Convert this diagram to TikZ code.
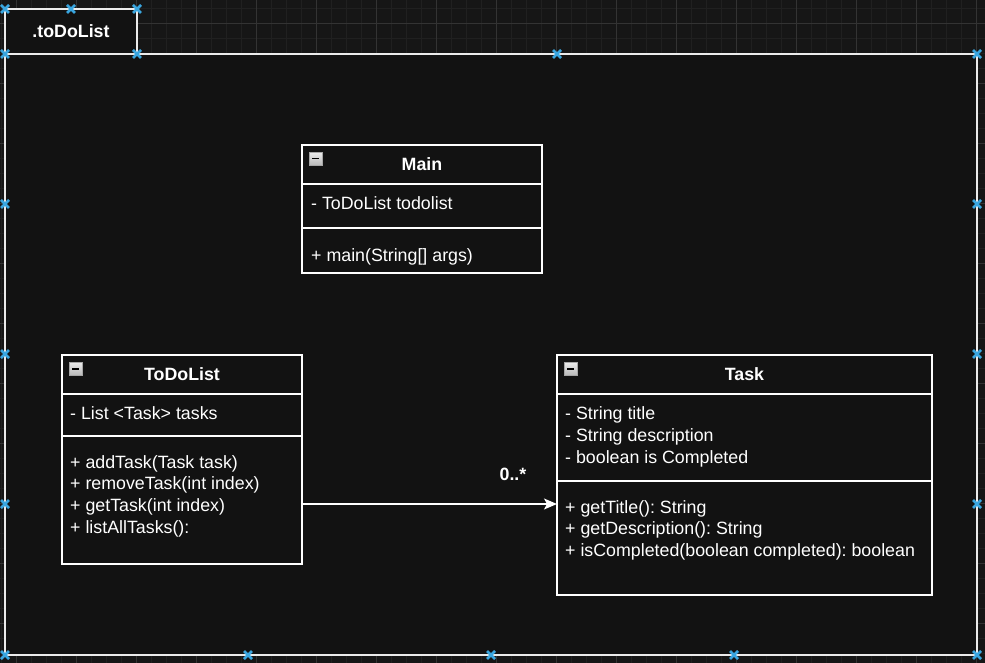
\documentclass[tikz,border=0pt]{standalone}
\usepackage{fontspec}
\setmainfont{Liberation Sans}
\usetikzlibrary{positioning,arrows.meta}
\frenchspacing
\newcommand{\umltext}{\fontsize{17.8}{21.5}\selectfont}
\definecolor{canvas}{HTML}{161616}
\definecolor{pane}{HTML}{121212}
\definecolor{minorline}{HTML}{202020}
\definecolor{majorline}{HTML}{333333}
\definecolor{handleblue}{HTML}{3AA6E0}
\tikzstyle{pkg} = [rectangle, draw=white!92!black, line width=1.3pt, fill=pane,
    inner sep=0pt, outer sep=0pt, anchor=north west]
\tikzstyle{part} = [rectangle, draw=white, line width=1.3pt, fill=pane,
    inner sep=0pt, outer sep=0pt]
\tikzstyle{head} = [part, minimum height=39pt, font=\umltext\bfseries]
\tikzstyle{member} = [anchor=base west, inner sep=0pt]
\tikzstyle{minbox} = [rectangle, draw=gray!70, top color=gray!15, bottom color=gray!55,
    minimum size=13pt, inner sep=0pt, anchor=north west]
\tikzstyle{minbar} = [black, line width=1.6pt]
\tikzstyle{assoc} = [-{Stealth[length=13pt, width=11pt, inset=3pt]}, white, line width=1.3pt]
\tikzstyle{handle} = [handleblue, line width=2.6pt]

\begin{document}
\begin{tikzpicture}[x=1pt, y=-1pt, text=white, font=\umltext]
    \useasboundingbox (0,0) rectangle (985,663);
    \fill[canvas] (0,0) rectangle (985,663);

    % grid
    \foreach \x in {1,16,...,985} \draw[minorline] (\x,0) -- (\x,663);
    \foreach \y in {8,23,...,663} \draw[minorline] (0,\y) -- (985,\y);
    \foreach \x in {16,76,...,985} \draw[majorline] (\x,0) -- (\x,663);
    \foreach \y in {23,83,...,663} \draw[majorline] (0,\y) -- (985,\y);

    % package frame
    \node (pkgtab) [pkg, minimum width=132pt, minimum height=45pt, font=\umltext\bfseries] at (5,9) {.toDoList};
    \node (pkgbody) [pkg, minimum width=972pt, minimum height=601pt] at (5,54) {};

    % class Main
    \node (mainhead) [head, minimum width=240pt, anchor=north west] at (302,145) {Main};
    \node (mainattr) [part, minimum width=240pt, minimum height=44pt, below=0pt of mainhead] {};
    \node (mainops) [part, minimum width=240pt, minimum height=45pt, below=0pt of mainattr] {};
    \node (mainattr1) [member] at (311,210) {- ToDoList todolist};
    \node (mainop1) [member] at (311,261) {+ main(String[] args)};

    % class ToDoList
    \node (tdlhead) [head, minimum width=240pt, anchor=north west] at (62,355) {ToDoList};
    \node (tdlattr) [part, minimum width=240pt, minimum height=42pt, below=0pt of tdlhead] {};
    \node (tdlops) [part, minimum width=240pt, minimum height=128pt, below=0pt of tdlattr] {};
    \node (tdlattr1) [member] at (70,419) {- List <Task> tasks};
    \foreach \m [count=\i] in {{+ addTask(Task task)}, {+ removeTask(int index)},
        {+ getTask(int index)}, {+ listAllTasks():}}
        \node (tdlop\i) [member] at (70,{468+21.7*(\i-1)}) {\m};

    % class Task
    \node (taskhead) [head, minimum width=375pt, anchor=north west] at (557,355) {Task};
    \node (taskattr) [part, minimum width=375pt, minimum height=87pt, below=0pt of taskhead] {};
    \node (taskops) [part, minimum width=375pt, minimum height=114pt, below=0pt of taskattr] {};
    \foreach \m [count=\i] in {{- String title}, {- String description}, {- boolean is Completed}}
        \node (taskattr\i) [member] at (565,{419+22*(\i-1)}) {\m};
    \foreach \m [count=\i] in {{+ getTitle(): String}, {+ getDescription(): String},
        {+ isCompleted(boolean completed): boolean}}
        \node (taskop\i) [member] at (565,{513+21.5*(\i-1)}) {\m};

    % collapse icons
    \node (mainmin) [minbox] at (309,152) {};
    \node (tdlmin) [minbox] at (69,362) {};
    \node (taskmin) [minbox] at (564,362) {};
    \draw[minbar] ([xshift=3pt]mainmin.west) -- ([xshift=-3pt]mainmin.east);
    \draw[minbar] ([xshift=3pt]tdlmin.west) -- ([xshift=-3pt]tdlmin.east);
    \draw[minbar] ([xshift=3pt]taskmin.west) -- ([xshift=-3pt]taskmin.east);

    % association
    \draw[assoc] ([yshift=-4pt]tdlops.east) -- ([yshift=-4pt]tdlops.east -| taskops.west);
    \node (mult) [anchor=base, font=\umltext\bfseries] at (513,480) {0..*};

    % selection handles
    \foreach \p in {(5,9),(71,9),(137,9),(5,54),(137,54),(557,54),(977,54),
        (5,204),(5,354),(5,504),(5,655),(977,204),(977,354),(977,504),(977,655),
        (248,655),(491,655),(734,655)}
        \draw[handle] \p +(-4,-4) -- +(4,4) \p +(-4,4) -- +(4,-4);
\end{tikzpicture}
\end{document}
